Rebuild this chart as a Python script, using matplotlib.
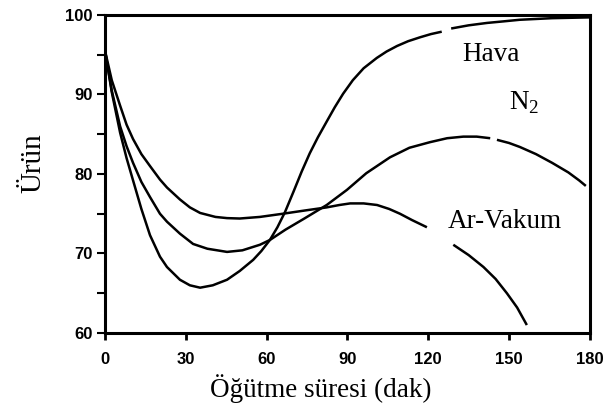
import numpy as np
import matplotlib
matplotlib.use("Agg")
import matplotlib.pyplot as plt
from matplotlib.ticker import MultipleLocator

plt.rcParams["mathtext.fontset"] = "custom"
plt.rcParams["mathtext.rm"] = "Liberation Serif"

# grinding time (min) and yield, NaN marks the breaks in each curve
hava_t = [0, 2.5, 5.6, 8, 10.4, 13.5, 16.7, 20.4, 23, 27.8, 31.5, 35.3, 40, 45.3, 50, 55, 58, 61.2,
          64, 66.8, 70, 73, 76, 79, 82.3, 85.3, 88.4, 92, 96, 100.9, 104.5, 108.4, 112.5, 117, 121, 125,
          np.nan, 128.5, 135, 141.8, 148, 154, 160, 166, 173, 180]
hava_y = [95.5, 90.3, 85.2, 82.0, 79.2, 75.6, 72.3, 69.6, 68.3, 66.7, 66.0, 65.7, 66.0, 66.7, 67.8, 69.2, 70.3, 71.7,
          73.3, 75.2, 77.8, 80.3, 82.6, 84.6, 86.6, 88.4, 90.1, 91.8, 93.3, 94.6, 95.4, 96.1, 96.7, 97.2, 97.6, 97.9,
          np.nan, 98.3, 98.7, 99.0, 99.2, 99.4, 99.5, 99.6, 99.65, 99.7]

n2_t = [0, 2.5, 5.6, 8, 10.4, 13.5, 16.7, 20.4, 23, 27.8, 32.7, 38, 45.3, 51, 57.5, 61.2, 67, 74, 82.3,
        89.8, 97, 105.8, 113, 120.6, 127, 133, 138, 143,
        np.nan, 145.5, 150, 154, 160, 166, 172, 176, 178.5]
n2_y = [95.5, 90.5, 86.0, 83.5, 81.4, 79.0, 77.1, 75.0, 74.0, 72.5, 71.2, 70.6, 70.2, 70.4, 71.1, 71.7, 73.0, 74.4, 76.1,
        78.0, 80.1, 82.1, 83.3, 84.0, 84.5, 84.7, 84.7, 84.5,
        np.nan, 84.3, 83.9, 83.4, 82.5, 81.4, 80.2, 79.2, 78.5]

ar_t = [0, 2.5, 5.6, 8, 10.4, 13.5, 16.7, 20.4, 23, 27.8, 31.5, 35.3, 41, 45.3, 50, 57.5, 66, 74, 82.3,
        87, 91, 96, 101, 105.5, 109.5, 114, 119.5,
        np.nan, 129.3, 135, 140.5, 145, 149.2, 153, 156.6]
ar_y = [95.5, 91.8, 88.6, 86.2, 84.4, 82.5, 81.0, 79.3, 78.3, 76.8, 75.8, 75.1, 74.6, 74.45, 74.4, 74.6, 75.0, 75.4, 75.8,
        76.1, 76.3, 76.3, 76.1, 75.6, 75.0, 74.2, 73.3,
        np.nan, 71.1, 69.8, 68.3, 66.8, 65.0, 63.2, 61.0]

x_ticks = [0, 30, 60, 90, 120, 150, 180]
y_ticks = [60, 70, 80, 90, 100]

serif = ["Liberation Serif", "DejaVu Serif"]
tick_font = {"family": "Liberation Sans", "weight": "bold", "size": 12}

fig = plt.figure(figsize=(6.05, 4.13), dpi=100)
ax = fig.add_axes([0.1736, 0.1937, 0.8014, 0.77])

for t, y in [(hava_t, hava_y), (n2_t, n2_y), (ar_t, ar_y)]:
    ax.plot(t, y, color="black", lw=1.8, solid_capstyle="butt", solid_joinstyle="round")

ax.set_xlim(0, 180)
ax.set_ylim(60, 100)
ax.set_xticks(x_ticks)
ax.set_yticks(y_ticks)
ax.yaxis.set_minor_locator(MultipleLocator(5))
ax.set_xticklabels([str(v) for v in x_ticks], fontdict=tick_font)
ax.set_yticklabels([str(v) for v in y_ticks], fontdict=tick_font)

ax.tick_params(axis="x", direction="out", length=5, width=2, pad=9)
ax.tick_params(axis="y", which="both", direction="out", length=6, width=1.5, pad=3)
for s in ax.spines.values():
    s.set_linewidth(2.2)

# curve names
ax.text(132.5, 95, "Hava", family=serif, fontsize=19.5, va="center", ha="left")
ax.text(150, 88.9, "N$_2$", family=serif, fontsize=19.5, va="center", ha="left")
ax.text(127.3, 74, "Ar-Vakum", family=serif, fontsize=19.5, va="center", ha="left")

ax.set_xlabel("Öğütme süresi (dak)", family=serif, fontsize=19.5, labelpad=6)
ax.xaxis.set_label_coords(0.445, -0.13)
ax.set_ylabel("Ürün", family=serif, fontsize=21, labelpad=14)
ax.yaxis.set_label_coords(-0.12, 0.535)

fig.savefig("out.png", dpi=100)
